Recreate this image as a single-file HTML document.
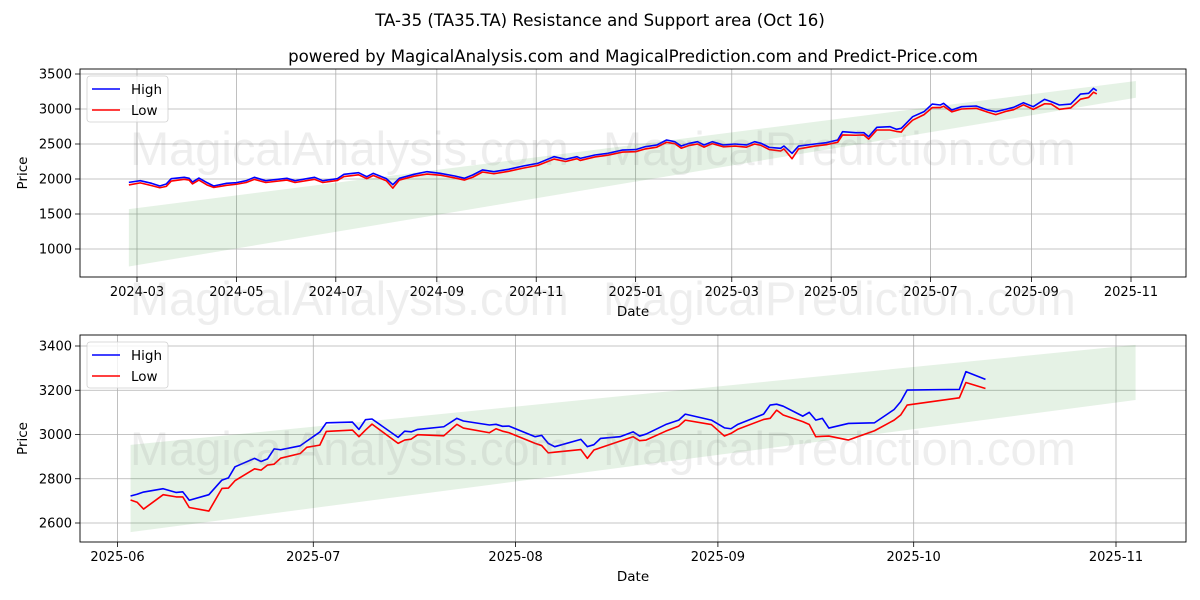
<!DOCTYPE html>
<html><head><meta charset="utf-8">
<style>
body{margin:0;background:#fff;}
svg{display:block;font-family:"DejaVu Sans","Liberation Sans",sans-serif;}
</style></head>
<body>
<svg id="c" width="1200" height="600" viewBox="0 0 1200 600" xmlns="http://www.w3.org/2000/svg">
<rect width="1200" height="600" fill="#fff"/>
<text x="600" y="26" text-anchor="middle" font-size="16.6" fill="#000">TA-35 (TA35.TA) Resistance and Support area (Oct 16)</text>
<text x="633" y="62" text-anchor="middle" font-size="16.6" fill="#000">powered by MagicalAnalysis.com and MagicalPrediction.com and Predict-Price.com</text>
<g id="top"></g>
<g id="bot"></g>
<g fill="rgba(120,120,120,0.13)" font-size="47" style="font-family:'Liberation Sans',sans-serif">
<text x="130" y="165">MagicalAnalysis.com</text>
<text x="603" y="165">MagicalPrediction.com</text>
<text x="130" y="315">MagicalAnalysis.com</text>
<text x="603" y="315">MagicalPrediction.com</text>
<text x="130" y="465">MagicalAnalysis.com</text>
<text x="603" y="465">MagicalPrediction.com</text>
</g>
</svg>
<script>
// ---- Top chart data ----
const topDates = ["2024-02-25","2024-03-03","2024-03-10","2024-03-15","2024-03-19","2024-03-22","2024-03-30","2024-04-02","2024-04-04","2024-04-08","2024-04-13","2024-04-17","2024-04-25","2024-05-01","2024-05-07","2024-05-12","2024-05-19","2024-06-01","2024-06-06","2024-06-18","2024-06-23","2024-07-02","2024-07-06","2024-07-15","2024-07-20","2024-07-24","2024-08-01","2024-08-05","2024-08-09","2024-08-18","2024-08-26","2024-09-03","2024-09-12","2024-09-18","2024-09-23","2024-09-29","2024-10-06","2024-10-15","2024-10-24","2024-11-02","2024-11-12","2024-11-19","2024-11-26","2024-11-28","2024-12-07","2024-12-15","2024-12-24","2025-01-01","2025-01-07","2025-01-14","2025-01-20","2025-01-25","2025-01-29","2025-02-03","2025-02-08","2025-02-12","2025-02-17","2025-02-24","2025-03-03","2025-03-10","2025-03-15","2025-03-19","2025-03-24","2025-03-31","2025-04-02","2025-04-07","2025-04-11","2025-04-21","2025-04-28","2025-05-05","2025-05-08","2025-05-16","2025-05-21","2025-05-24","2025-05-29","2025-06-06","2025-06-10","2025-06-13","2025-06-15","2025-06-20","2025-06-27","2025-07-02","2025-07-07","2025-07-09","2025-07-14","2025-07-20","2025-07-29","2025-08-05","2025-08-10","2025-08-16","2025-08-21","2025-08-27","2025-09-02","2025-09-09","2025-09-13","2025-09-18","2025-09-25","2025-10-01","2025-10-06","2025-10-09","2025-10-11"];
const topHigh = [1952,1976,1938,1900,1929,2005,2024,2010,1957,2014,1948,1900,1938,1948,1976,2024,1976,2010,1976,2024,1976,2005,2067,2090,2033,2081,2005,1919,2010,2067,2105,2081,2043,2010,2057,2129,2105,2138,2186,2224,2319,2281,2319,2295,2343,2367,2414,2420,2462,2486,2557,2533,2471,2510,2533,2486,2533,2486,2500,2486,2533,2510,2452,2438,2471,2367,2471,2500,2519,2557,2676,2662,2662,2605,2738,2748,2710,2724,2771,2890,2962,3071,3057,3081,2986,3033,3043,2986,2962,2995,3024,3090,3033,3138,3105,3057,3071,3214,3224,3295,3262];
const topLow = [1915,1945,1905,1875,1895,1970,1995,1985,1930,1985,1915,1880,1910,1925,1950,1995,1950,1985,1950,1995,1950,1980,2035,2060,2005,2050,1975,1870,1985,2040,2070,2055,2015,1985,2025,2100,2075,2110,2155,2195,2285,2250,2290,2265,2315,2340,2385,2390,2430,2455,2525,2505,2440,2480,2500,2455,2505,2460,2470,2455,2500,2480,2420,2400,2430,2290,2430,2470,2490,2525,2630,2625,2630,2570,2700,2700,2680,2670,2730,2840,2920,3020,3020,3040,2960,3000,3010,2955,2920,2965,2990,3060,2995,3075,3070,2995,3015,3140,3165,3240,3215];
const topBandDates = ["2024-02-25","2025-11-04"];
const topBandUpper = [1570,3400];
const topBandLower = [750,3160];
const topYTicks = [1000,1500,2000,2500,3000,3500];
const topXTicks = ["2024-03","2024-05","2024-07","2024-09","2024-11","2025-01","2025-03","2025-05","2025-07","2025-09","2025-11"];

// ---- Bottom chart data ----
const botDates = ["2025-06-03","2025-06-04","2025-06-05","2025-06-08","2025-06-10","2025-06-11","2025-06-12","2025-06-15","2025-06-17","2025-06-18","2025-06-19","2025-06-22","2025-06-23","2025-06-24","2025-06-25","2025-06-26","2025-06-29","2025-06-30","2025-07-02","2025-07-03","2025-07-07","2025-07-08","2025-07-09","2025-07-10","2025-07-14","2025-07-15","2025-07-16","2025-07-17","2025-07-21","2025-07-23","2025-07-24","2025-07-28","2025-07-29","2025-07-30","2025-07-31","2025-08-04","2025-08-05","2025-08-06","2025-08-07","2025-08-11","2025-08-12","2025-08-13","2025-08-14","2025-08-17","2025-08-19","2025-08-20","2025-08-21","2025-08-24","2025-08-26","2025-08-27","2025-08-31","2025-09-02","2025-09-03","2025-09-04","2025-09-08","2025-09-09","2025-09-10","2025-09-11","2025-09-14","2025-09-15","2025-09-16","2025-09-17","2025-09-18","2025-09-21","2025-09-25","2025-09-28","2025-09-29","2025-09-30","2025-10-08","2025-10-09","2025-10-12"];
const botHigh = [2722,2730,2740,2755,2738,2741,2703,2728,2794,2804,2854,2892,2878,2890,2935,2931,2949,2970,3011,3053,3056,3023,3067,3070,2987,3015,3012,3023,3035,3073,3061,3043,3046,3037,3038,2990,2996,2960,2945,2978,2945,2954,2982,2990,3012,2993,3002,3045,3065,3092,3065,3030,3026,3045,3092,3133,3137,3128,3083,3100,3065,3073,3029,3050,3053,3113,3148,3201,3204,3284,3249];
const botLow = [2704,2694,2663,2728,2718,2718,2670,2654,2756,2758,2791,2845,2839,2862,2866,2893,2914,2942,2952,3014,3020,2990,3020,3047,2960,2975,2979,2999,2994,3046,3029,3008,3026,3015,3008,2960,2950,2917,2920,2932,2892,2930,2940,2970,2990,2972,2975,3015,3038,3065,3045,2993,3005,3023,3068,3073,3110,3088,3058,3045,2990,2992,2993,2975,3017,3065,3088,3133,3166,3235,3208];
const botBandDates = ["2025-06-03","2025-11-04"];
const botBandUpper = [2953,3405];
const botBandLower = [2559,3156];
const botYTicks = [2600,2800,3000,3200,3400];
const botXTicks = ["2025-06","2025-07","2025-08","2025-09","2025-10","2025-11"];

const NS="http://www.w3.org/2000/svg";
function mk(tag,attrs,parent){const e=document.createElementNS(NS,tag);for(const k in attrs)e.setAttribute(k,attrs[k]);parent.appendChild(e);return e;}
function t(s){const p=s.split("-");return Date.UTC(+p[0],+p[1]-1,p[2]?+p[2]:1)/86400000;}

function panel(g,cfg){
  const {L,R,T,B,d0,x0,d1,x1,v0,y0,v1,y1}=cfg;
  const X=d=>x0+(t(d)-t(d0))*(x1-x0)/(t(d1)-t(d0));
  const Y=v=>y0+(v-v0)*(y1-y0)/(v1-v0);
  cfg.xt.forEach(d=>{
    const x=X(d);
    const gl=mk("line",{x1:x,x2:x,y1:T,y2:B,stroke:"#b0b0b0","stroke-width":0.8},g);
    
    
    const tk=mk("line",{x1:x,x2:x,y1:B,y2:B+5,stroke:"#000","stroke-width":0.8},g);
    
    
    const tl=mk("text",{x:x,y:B+19,"text-anchor":"middle","font-size":13,fill:"#000"},g);
    tl.textContent=d;
    
    
  });
  cfg.yt.forEach(v=>{
    const y=Y(v);
    const gl=mk("line",{x1:L,x2:R,y1:y,y2:y,stroke:"#b0b0b0","stroke-width":0.8},g);
    
    
    const tk=mk("line",{x1:L-5,x2:L,y1:y,y2:y,stroke:"#000","stroke-width":0.8},g);
    
    
    const tl=mk("text",{x:L-8,y:y+4.5,"text-anchor":"end","font-size":13,fill:"#000"},g);
    tl.textContent=v;
    
    
  });
  const bd=cfg.bd;
  const pts=[[X(bd[0]),Y(cfg.bu[0])],[X(bd[1]),Y(cfg.bu[1])],[X(bd[1]),Y(cfg.bl[1])],[X(bd[0]),Y(cfg.bl[0])]];
  const band=mk("polygon",{points:pts.map(p=>p.join(",")).join(" "),fill:"rgba(0,128,0,0.1)"},g);
  
  
  const hl=mk("polyline",{points:cfg.dates.map((d,i)=>X(d)+","+Y(cfg.hi[i])).join(" "),fill:"none",stroke:"#0000ff","stroke-width":1.6,"stroke-linejoin":"round"},g);
  
  
  const ll=mk("polyline",{points:cfg.dates.map((d,i)=>X(d)+","+Y(cfg.lo[i])).join(" "),fill:"none",stroke:"#ff0000","stroke-width":1.6,"stroke-linejoin":"round"},g);
  
  
  const fr=mk("rect",{x:L,y:T,width:R-L,height:B-T,fill:"none",stroke:"#000","stroke-width":0.9},g);
  
  
  const xl=mk("text",{x:(L+R)/2,y:B+39,"text-anchor":"middle","font-size":13.5,fill:"#000"},g);
  xl.textContent="Date";
  
  
  const yc=(T+B)/2;
  const yl=mk("text",{x:27,y:yc,"text-anchor":"middle","font-size":13.5,fill:"#000",transform:"rotate(-90 27 "+yc+")"},g);
  yl.textContent="Price";
  
  
  const lg=mk("g",{},g);
  
  
  mk("rect",{x:L+7,y:T+7,width:81,height:46,rx:3,fill:"rgba(255,255,255,0.8)",stroke:"#d0d0d0","stroke-width":0.8},lg);
  const e1=mk("line",{x1:L+12,x2:L+40,y1:T+20,y2:T+20,stroke:"#0000ff","stroke-width":1.6},lg);
  
  
  const t1=mk("text",{x:L+51,y:T+25,"font-size":13.5,fill:"#000"},lg);t1.textContent="High";
  
  
  const e2=mk("line",{x1:L+12,x2:L+40,y1:T+41,y2:T+41,stroke:"#ff0000","stroke-width":1.6},lg);
  
  
  const t2=mk("text",{x:L+51,y:T+46,"font-size":13.5,fill:"#000"},lg);t2.textContent="Low";
  
  
}

panel(document.getElementById("top"),{L:80,R:1186,T:69,B:277,d0:"2024-03-01",x0:137,d1:"2025-11-01",x1:1131,v0:1000,y0:249,v1:3500,y1:74,
  xt:topXTicks,yt:topYTicks,bd:topBandDates,bu:topBandUpper,bl:topBandLower,dates:topDates,hi:topHigh,lo:topLow});
panel(document.getElementById("bot"),{L:80,R:1186,T:335,B:542,d0:"2025-06-01",x0:117.5,d1:"2025-11-01",x1:1116,v0:2600,y0:523,v1:3400,y1:346,
  xt:botXTicks,yt:botYTicks,bd:botBandDates,bu:botBandUpper,bl:botBandLower,dates:botDates,hi:botHigh,lo:botLow});
</script>
</body></html>
